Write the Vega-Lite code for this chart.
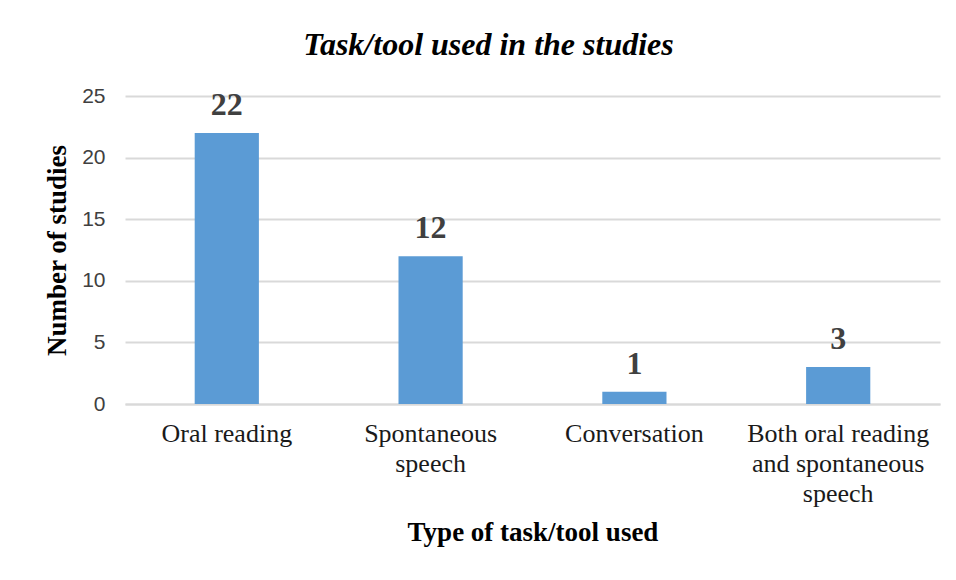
{
  "$schema": "https://vega.github.io/schema/vega-lite/v6.json",
  "autosize": {"type": "none"},
  "width": 815,
  "height": 308,
  "padding": {"left": 125, "top": 96, "right": 16, "bottom": 176},
  "background": "white",
  "title": {
    "text": "Task/tool used in the studies",
    "font": "Liberation Serif",
    "fontSize": 32,
    "fontStyle": "italic",
    "fontWeight": "bold",
    "color": "#000000",
    "anchor": "middle",
    "frame": "group",
    "dx": -44,
    "offset": 23
  },
  "data": {
    "values": [
      {"task": "Oral reading", "studies": 22},
      {"task": "Spontaneous|speech", "studies": 12},
      {"task": "Conversation", "studies": 1},
      {"task": "Both oral reading|and spontaneous|speech", "studies": 3}
    ]
  },
  "encoding": {
    "x": {
      "field": "task",
      "type": "nominal",
      "sort": null,
      "scale": {"paddingInner": 0.685, "paddingOuter": 0.342},
      "axis": {
        "title": "Type of task/tool used",
        "titleFont": "Liberation Serif",
        "titleFontSize": 27,
        "titleFontWeight": "bold",
        "titleColor": "#000000",
        "titlePadding": 13,
        "labelExpr": "split(datum.label, '|')",
        "labelFont": "Liberation Serif",
        "labelFontSize": 26,
        "labelColor": "#1a1a1a",
        "labelAngle": 0,
        "labelPadding": 16,
        "labelLineHeight": 30,
        "labelLimit": 0,
        "ticks": false,
        "domainColor": "#d9d9d9",
        "domainWidth": 2
      }
    },
    "y": {
      "field": "studies",
      "type": "quantitative",
      "scale": {"domain": [0, 25]},
      "axis": {
        "title": "Number of studies",
        "titleFont": "Liberation Serif",
        "titleFontSize": 27,
        "titleFontWeight": "bold",
        "titleColor": "#000000",
        "titlePadding": 10,
        "values": [0, 5, 10, 15, 20, 25],
        "labelFont": "Liberation Sans",
        "labelFontSize": 21,
        "labelColor": "#404040",
        "labelPadding": 20,
        "ticks": false,
        "domain": false,
        "gridColor": "#d9d9d9",
        "gridWidth": 2
      }
    }
  },
  "layer": [
    {"mark": {"type": "bar", "color": "#5B9BD5"}},
    {
      "mark": {
        "type": "text",
        "dy": -11,
        "baseline": "bottom",
        "font": "Liberation Serif",
        "fontSize": 32,
        "fontWeight": "bold",
        "color": "#404040"
      },
      "encoding": {"text": {"field": "studies", "type": "quantitative"}}
    }
  ],
  "config": {"view": {"stroke": null}}
}
